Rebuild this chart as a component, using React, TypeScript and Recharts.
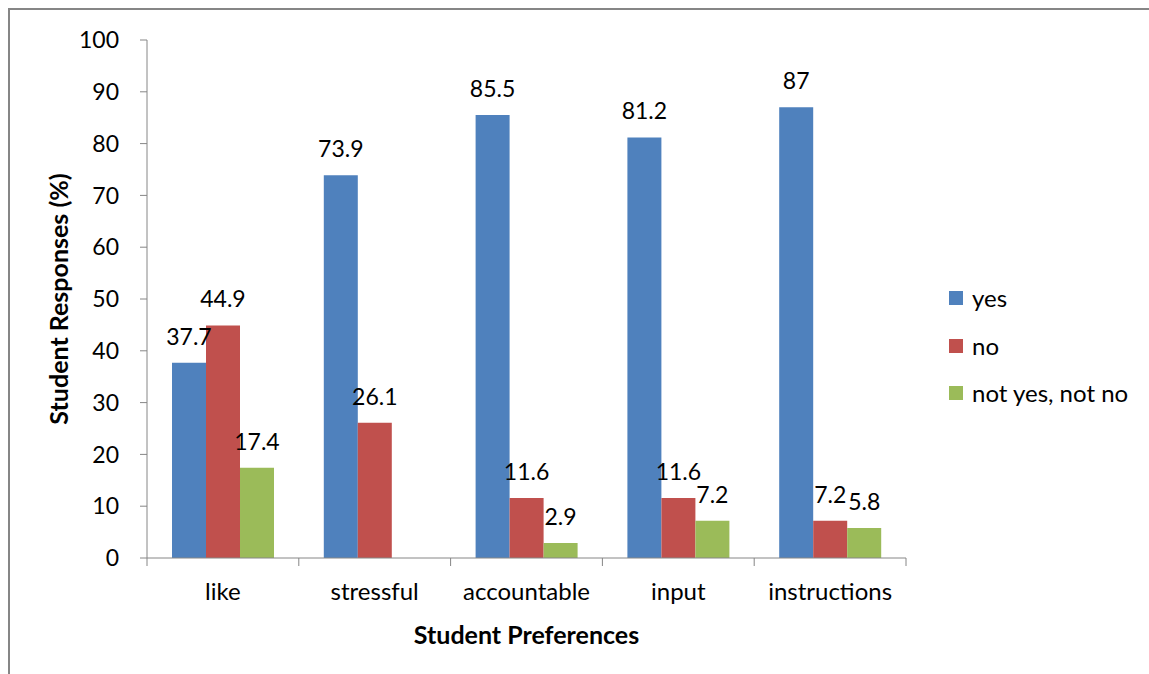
import React from 'react';
import { BarChart, Bar, XAxis, YAxis, Legend, LabelList, Label } from 'recharts';

const categories = ['like', 'stressful', 'accountable', 'input', 'instructions'];
const yesValues = [37.7, 73.9, 85.5, 81.2, 87];
const noValues = [44.9, 26.1, 11.6, 11.6, 7.2];
const neitherValues: (number | null)[] = [17.4, null, 2.9, 7.2, 5.8];
const yTicks = [0, 10, 20, 30, 40, 50, 60, 70, 80, 90, 100];

const series = [
  { key: 'yes', name: 'yes', color: '#4F81BD' },
  { key: 'no', name: 'no', color: '#C0504D' },
  { key: 'neither', name: 'not yes, not no', color: '#9BBB59' },
];

const data = categories.map((name, i) => ({
  name,
  yes: yesValues[i],
  no: noValues[i],
  neither: neitherValues[i],
}));

const CHART_W = 1139;
const CHART_H = 664;
const LEFT = 137;
const RIGHT = 243;
const TOP = 30;
const X_AXIS_H = 116;
const axisColor = '#868686';
const font = 'Lato, "Open Sans", sans-serif';
const band = (CHART_W - LEFT - RIGHT) / categories.length;

const CategoryTick = (props: any) => {
  const { x, y, payload, index } = props;
  const last = index === categories.length - 1;
  return (
    <g>
      <line x1={x - band / 2} y1={y} x2={x - band / 2} y2={y + 8} stroke={axisColor} />
      {last && <line x1={x + band / 2} y1={y} x2={x + band / 2} y2={y + 8} stroke={axisColor} />}
      <text x={x} y={y + 42} textAnchor="middle" fill="#000" fontSize={24}>
        {payload.value}
      </text>
    </g>
  );
};

const ValueLabel = (props: any) => {
  const { x, y, width, value } = props;
  if (value === null || value === undefined) return null;
  return (
    <text x={x + width / 2} y={y - 18} textAnchor="middle" fill="#000" fontSize={23}>
      {value}
    </text>
  );
};

const LegendBox = () => (
  <div style={{ fontFamily: font }}>
    {series.map((s) => (
      <div key={s.key} style={{ display: 'flex', alignItems: 'center', height: 47.7 }}>
        <span style={{ width: 14, height: 14, background: s.color, marginRight: 9, display: 'inline-block' }} />
        <span style={{ fontSize: 24, color: '#000', whiteSpace: 'nowrap', lineHeight: '24px' }}>{s.name}</span>
      </div>
    ))}
  </div>
);

export default function App() {
  return (
    <div
      style={{
        marginLeft: 8,
        marginTop: 8,
        width: CHART_W,
        height: CHART_H,
        borderLeft: `2px solid ${axisColor}`,
        borderTop: `2px solid ${axisColor}`,
        fontFamily: font,
        background: '#fff',
      }}
    >
      <style>{'html { overflow: hidden; } body { margin: 0; }'}</style>
      <BarChart
        width={CHART_W}
        height={CHART_H}
        data={data}
        margin={{ top: TOP, right: RIGHT, left: 0, bottom: 0 }}
        barCategoryGap={25}
        barGap={0}
      >
        <XAxis
          dataKey="name"
          height={X_AXIS_H}
          axisLine={{ stroke: axisColor }}
          tickLine={false}
          tickSize={0}
          tickMargin={0}
          interval={0}
          tick={<CategoryTick />}
        >
          <Label
            content={() => (
              <text x={516.5} y={624} textAnchor="middle" dominantBaseline="central" fontSize={25} fontWeight="bold" fill="#000">
                Student Preferences
              </text>
            )}
          />
        </XAxis>
        <YAxis
          width={LEFT}
          domain={[0, 100]}
          ticks={yTicks}
          interval={0}
          axisLine={{ stroke: axisColor }}
          tickLine={{ stroke: axisColor }}
          tickSize={7}
          tickMargin={21}
          tick={{ fill: '#000', fontSize: 23 }}
        >
          <Label
            content={() => (
              <text
                x={48}
                y={289}
                transform="rotate(-90 48 289)"
                textAnchor="middle"
                dominantBaseline="central"
                fontSize={25}
                fontWeight="bold"
                fill="#000"
              >
                Student Responses (%)
              </text>
            )}
          />
        </YAxis>
        <Legend
          layout="vertical"
          align="center"
          verticalAlign="middle"
          content={<LegendBox />}
          wrapperStyle={{ left: 939, top: 264, width: 200 }}
        />
        {series.map((s) => (
          <Bar key={s.key} dataKey={s.key} name={s.name} fill={s.color} isAnimationActive={false}>
            <LabelList dataKey={s.key} content={<ValueLabel />} />
          </Bar>
        ))}
      </BarChart>
    </div>
  );
}
